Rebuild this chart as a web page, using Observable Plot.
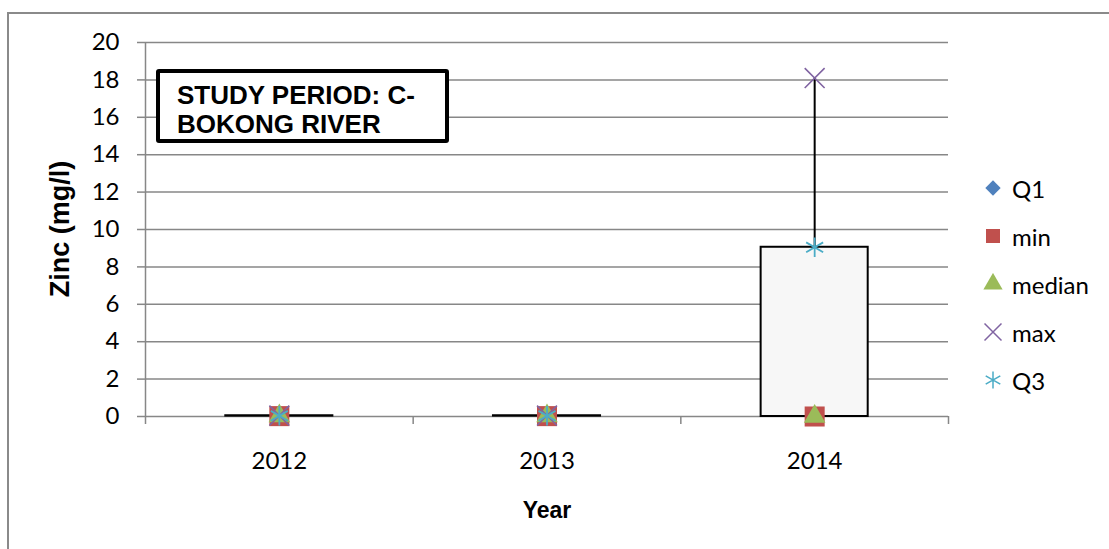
<!DOCTYPE html>
<html><head><meta charset="utf-8">
<script src="https://cdn.jsdelivr.net/npm/d3@7"></script>
<script src="https://cdn.jsdelivr.net/npm/@observablehq/plot@0.6"></script>
<style>
body{margin:0;background:#fff;}
#wrap{position:relative;width:1109px;height:549px;overflow:hidden;background:#fff;}
#frame{position:absolute;left:7px;top:12px;width:1200px;height:600px;border-left:2px solid #8a8a8a;border-top:2px solid #8a8a8a;box-sizing:border-box;}
#chart{position:absolute;left:0;top:0;}
#titlebox{position:absolute;left:156px;top:69px;width:293px;height:74px;box-sizing:border-box;border:4px solid #000;border-radius:3px;background:#fff;
 font-family:"Liberation Sans",Arial,sans-serif;font-weight:bold;font-size:26px;line-height:29px;padding:8px 0 0 17px;color:#000;}
#ylab{position:absolute;left:60px;top:229px;transform:translate(-50%,-50%) rotate(-90deg);white-space:nowrap;
 font-family:"Liberation Sans",Arial,sans-serif;font-weight:bold;font-size:27px;color:#000;}
#xlab{position:absolute;left:547px;top:510px;transform:translate(-50%,-50%);white-space:nowrap;
 font-family:"Liberation Sans",Arial,sans-serif;font-weight:bold;font-size:23px;color:#000;}
#legend{position:absolute;left:982px;top:164px;font-family:Lato,sans-serif;font-size:24px;color:#000;}
.li{display:flex;align-items:center;height:48px;}
.li svg{width:22px;height:22px;margin-right:8px;}
</style></head>
<body>
<div id="wrap">
  <div id="frame"></div>
  <div id="chart"></div>
  <div id="titlebox">STUDY PERIOD: C-<br>BOKONG RIVER</div>
  <div id="ylab">Zinc (mg/l)</div>
  <div id="xlab">Year</div>
  <div id="legend"></div>
</div>
<script>
const years = ["2012", "2013", "2014"];
const seriesNames = ["Q1", "min", "median", "max", "Q3"];
const q1Vals = [0.02, 0.02, 0];
const minVals = [0.02, 0.02, 0];
const medianVals = [0.03, 0.03, 0];
const maxVals = [0.05, 0.05, 18.1];
const q3Vals = [0.04, 0.04, 9.05];
const yTicks = [0, 2, 4, 6, 8, 10, 12, 14, 16, 18, 20];

const colors = {Q1: "#4F81BD", min: "#C0504D", median: "#9BBB59", max: "#8064A2", Q3: "#4BACC6"};

const rows = years.map((y, i) => ({
  year: y, xc: i + 0.5,
  Q1: q1Vals[i], min: minVals[i], median: medianVals[i], max: maxVals[i], Q3: q3Vals[i]
}));
const boxHalf = 0.2;
const grey = "#878787";

const dotMarks = [
  Plot.dot(rows, {x: "xc", y: "Q1", symbol: () => "diamond2", r: 7, fill: colors.Q1, stroke: "none"}),
  Plot.dot(rows, {x: "xc", y: "min", symbol: () => "square", r: 11.3, fill: colors.min, stroke: "none"}),
  Plot.dot(rows, {x: "xc", y: "median", symbol: () => "triangle", r: 8, fill: colors.median, stroke: "none"}),
  Plot.dot(rows, {x: "xc", y: "max", symbol: () => "times", r: 9.1, fill: "none", stroke: colors.max, strokeWidth: 1.6}),
  Plot.dot(rows, {x: "xc", y: "Q3", symbol: () => "asterisk", r: 9.3, fill: "none", stroke: colors.Q3, strokeWidth: 1.8})
];

const chart = Plot.plot({
  width: 1109, height: 549,
  marginLeft: 145, marginRight: 161, marginTop: 42, marginBottom: 133,
  x: {domain: [0, 3]},
  y: {domain: [0, 20]},
  symbol: {type: "identity"},
  style: {fontFamily: "Lato, sans-serif", fontSize: "24px", color: "#000", background: "transparent", overflow: "visible"},
  marks: [
    Plot.gridY(yTicks, {stroke: grey, strokeOpacity: 1, strokeWidth: 1.5}),
    Plot.ruleX([0], {stroke: grey, strokeWidth: 1.5}),
    Plot.axisY(yTicks, {tickSize: 8, tickPadding: 18, stroke: grey, strokeWidth: 1.5, fill: "#000", fontSize: 24, label: null, tickFormat: d => String(d)}),
    Plot.axisX([0, 1, 2, 3], {tickSize: 8, tickFormat: () => "", stroke: grey, strokeWidth: 1.5, label: null}),
    Plot.axisX(rows.map(d => d.xc), {tickSize: 0, tickPadding: 35, fontSize: 24, fill: "#000", tickFormat: d => years[Math.floor(d)], label: null}),
    Plot.ruleX(rows, {x: "xc", y1: "Q3", y2: "max", stroke: "#000", strokeWidth: 2}),
    Plot.ruleX(rows, {x: "xc", y1: "min", y2: "Q1", stroke: "#000", strokeWidth: 2}),
    Plot.rect(rows, {x1: d => d.xc - boxHalf, x2: d => d.xc + boxHalf, y1: "Q1", y2: "Q3", fill: "#f7f7f7", stroke: "#000", strokeWidth: 2}),
    ...dotMarks
  ]
});
document.getElementById("chart").appendChild(chart);

// legend
const legendSizes = {Q1: 150, min: 196, median: 160, max: 190, Q3: 200};
const lg = d3.select("#legend");
const symMap = {Q1: d3.symbolDiamond2, min: d3.symbolSquare, median: d3.symbolTriangle, max: d3.symbolTimes, Q3: d3.symbolAsterisk};
seriesNames.forEach(name => {
  const row = lg.append("div").attr("class", "li");
  const svg = row.append("svg").attr("viewBox", "-11 -11 22 22");
  const p = svg.append("path").attr("d", d3.symbol(symMap[name], legendSizes[name])());
  if (name === "max" || name === "Q3") p.attr("fill", "none").attr("stroke", colors[name]).attr("stroke-width", 1.5);
  else p.attr("fill", colors[name]);
  row.append("span").text(name);
});
</script>
</body></html>
